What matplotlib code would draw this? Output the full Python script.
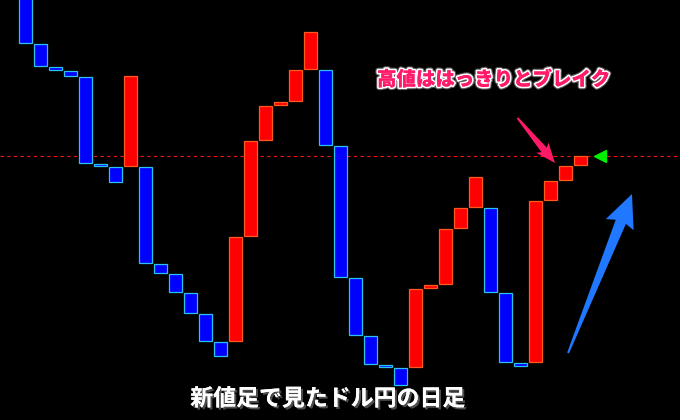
import matplotlib
matplotlib.use("Agg")
import matplotlib.pyplot as plt
import matplotlib.patheffects as pe
from matplotlib.patches import Polygon
import numpy as np

plt.rcParams['font.family'] = ['Noto Sans CJK JP', 'DejaVu Sans']

# new price bars (shin-ne-ashi), price levels in chart units
bar_open = [430, 376, 353, 349, 343, 256, 253, 254, 253, 156,
            146, 127, 106, 78, 79, 184, 280, 315, 319, 351,
            350, 274, 142, 84, 55, 52, 53, 132, 136, 192,
            213, 212, 127, 57, 58, 220, 240, 255]
bar_close = [377, 354, 350, 344, 257, 254, 238, 344, 157, 147,
             128, 107, 79, 64, 183, 279, 314, 318, 350, 388,
             275, 143, 85, 56, 53, 35, 131, 135, 191, 212,
             243, 128, 58, 54, 219, 239, 254, 264]
break_level = 264
title = "新値足で見たドル円の日足"
note = "高値ははっきりとブレイク"

fig = plt.figure(figsize=(6.8, 4.2), dpi=100)
fig.patch.set_facecolor("black")
ax = fig.add_axes([0, 0, 1, 1])
ax.set_facecolor("black")
ax.set_xlim(-1.7, 43.63)
ax.set_ylim(0, 420)
ax.axis("off")

x = np.arange(len(bar_open))
o = np.array(bar_open)
c = np.array(bar_close)
up = c > o
lo = np.minimum(o, c)
hi = np.maximum(o, c)
ax.bar(x[~up], (hi - lo)[~up], bottom=lo[~up], width=0.88,
       color="#0000ff", edgecolor="#29c3f0", linewidth=0.9, zorder=3)
ax.bar(x[up], (hi - lo)[up], bottom=lo[up], width=0.88,
       color="#ff0000", edgecolor="#ff5a1e", linewidth=0.9, zorder=3)

ax.axhline(break_level, color="#ff1010", lw=0.8, ls=(0, (3, 3)), zorder=2)
ax.plot([len(bar_open) + 0.3], [break_level], marker="<", ms=8,
        color="#00ee00", zorder=4)


def wedge_arrow(tail, tip, w_tail, w_neck, w_head, head_len, color):
    # tapered arrow drawn in pixel space, anchored on data points
    t = ax.transData.transform(tail)
    h = ax.transData.transform(tip)
    d = h - t
    L = np.hypot(*d)
    u = d / L
    n = np.array([-u[1], u[0]])
    b = h - u * head_len
    pts = [t - n * w_tail / 2, b - n * w_neck / 2, b - n * w_head / 2 - u * 3,
           h, b + n * w_head / 2 - u * 3, b + n * w_neck / 2, t + n * w_tail / 2]
    pts = ax.transData.inverted().transform(np.array(pts))
    ax.add_patch(Polygon(pts, closed=True, color=color, zorder=5, lw=0))


wedge_arrow((32.8, 302), (35.3, 257), 2, 7, 16, 17, "#ff1a66")
wedge_arrow((36.17, 67), (40.43, 226), 2, 11, 30, 30, "#1f78ff")

ax.text(377, 420 - 80, note, transform=None, fontsize=14, fontweight="heavy",
        color="#ff1a6a", ha="left", va="center", zorder=6,
        path_effects=[pe.withStroke(linewidth=4, foreground="#555555"),
                      pe.withStroke(linewidth=2.4, foreground="white"),
                      pe.Normal()])
ax.text(327.5, 420 - 399, title, transform=None, fontsize=16.5,
        fontweight="bold", color="white", ha="center", va="center", zorder=6,
        path_effects=[pe.withSimplePatchShadow(offset=(1.5, -1.5),
                                               shadow_rgbFace="#555555",
                                               alpha=0.9),
                      pe.Normal()])

fig.savefig("out.png", dpi=100, facecolor="black")
